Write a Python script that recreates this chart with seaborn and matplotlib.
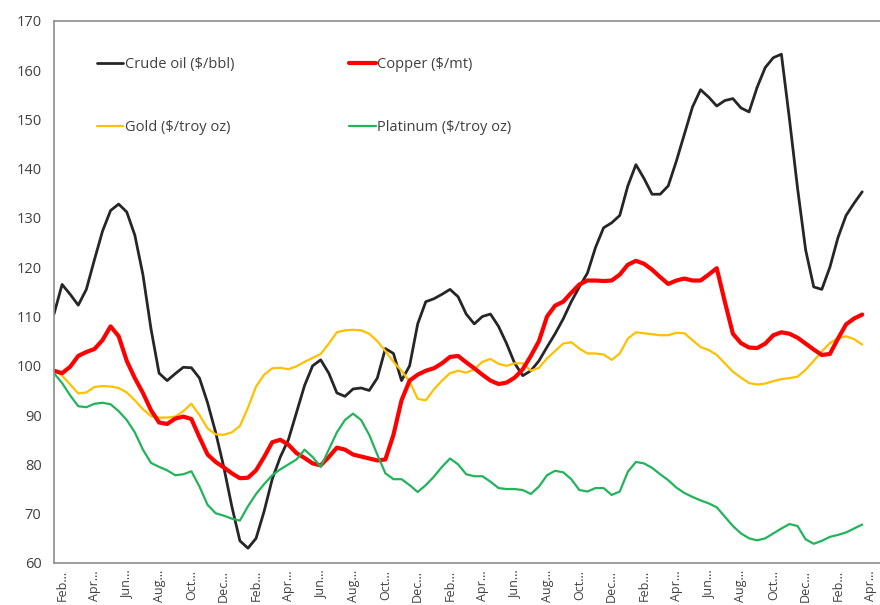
import numpy as np
import pandas as pd
import matplotlib
matplotlib.use("Agg")
import matplotlib.pyplot as plt
import seaborn as sns

# half-month steps, 0 .. 50 months
months = np.arange(0, 50.5, 0.5)

crude = [110.5, 116.5, 114.5, 112.3, 115.5, 121.5, 127.3, 131.5, 132.8, 131.2,
         126.5, 118.5, 107.5, 98.5, 97.0, 98.4, 99.7, 99.6, 97.5, 92.5,
         86.5, 79.5, 71.5, 64.5, 63.0, 65.0, 70.5, 77.0, 81.5, 85.0,
         90.5, 96.0, 100.0, 101.2, 98.5, 94.5, 93.8, 95.3, 95.5, 95.0,
         97.5, 103.5, 102.5, 97.0, 100.0, 108.5, 113.0, 113.6, 114.5, 115.5,
         114.0, 110.5, 108.5, 110.0, 110.5, 108.0, 104.5, 100.5, 98.0, 99.0,
         101.0, 103.8, 106.5, 109.5, 113.0, 116.0, 118.8, 124.0, 128.0, 129.0,
         130.5, 136.5, 140.8, 138.0, 134.8, 134.8, 136.5, 141.5, 147.0, 152.5,
         156.0, 154.5, 152.7, 153.8, 154.2, 152.3, 151.5, 156.5, 160.5, 162.5,
         163.2, 150.0, 136.0, 123.5, 116.0, 115.5, 120.0, 126.0, 130.5, 133.0,
         135.3]

copper = [99.0, 98.5, 99.8, 102.0, 102.8, 103.4, 105.2, 108.0, 106.0, 101.0,
          97.5, 94.5, 91.0, 88.5, 88.2, 89.3, 89.7, 89.2, 85.5, 82.0,
          80.5, 79.4, 78.2, 77.2, 77.3, 78.8, 81.5, 84.5, 85.0, 84.0,
          82.3, 81.3, 80.2, 79.8, 81.5, 83.4, 83.0, 82.0, 81.6, 81.2,
          80.8, 81.0, 86.0, 93.0, 97.0, 98.2, 99.0, 99.5, 100.5, 101.8,
          102.0, 100.7, 99.5, 98.2, 97.0, 96.3, 96.6, 97.6, 99.3, 102.0,
          105.0, 110.0, 112.2, 113.0, 114.8, 116.5, 117.3, 117.3, 117.2, 117.3,
          118.5, 120.5, 121.3, 120.7, 119.5, 118.0, 116.6, 117.3, 117.7, 117.3,
          117.3, 118.5, 119.8, 113.0, 106.5, 104.6, 103.7, 103.6, 104.5, 106.2,
          106.8, 106.5, 105.7, 104.5, 103.3, 102.2, 102.4, 105.5, 108.4, 109.6,
          110.4]

gold = [99.2, 98.0, 96.2, 94.4, 94.6, 95.7, 95.9, 95.8, 95.5, 94.6,
        93.0, 91.2, 89.8, 89.5, 89.5, 89.7, 90.8, 92.3, 90.0, 87.3,
        86.1, 86.0, 86.5, 87.8, 91.5, 95.8, 98.2, 99.5, 99.6, 99.3,
        99.9, 100.8, 101.6, 102.4, 104.5, 106.8, 107.2, 107.3, 107.2, 106.5,
        105.0, 103.0, 100.8, 99.0, 96.8, 93.3, 93.0, 95.2, 97.0, 98.5,
        99.0, 98.6, 99.3, 100.8, 101.4, 100.4, 100.0, 100.5, 100.5, 99.0,
        99.6, 101.5, 103.0, 104.5, 104.8, 103.5, 102.5, 102.5, 102.3, 101.2,
        102.5, 105.5, 106.8, 106.6, 106.4, 106.2, 106.2, 106.7, 106.6, 105.2,
        103.8, 103.2, 102.2, 100.5, 98.8, 97.6, 96.5, 96.2, 96.4, 96.9,
        97.3, 97.5, 97.8, 99.2, 101.0, 102.9, 104.6, 105.6, 106.0, 105.4,
        104.3]

platinum = [98.5, 96.5, 94.0, 91.8, 91.6, 92.3, 92.5, 92.2, 90.8, 89.0,
            86.5, 83.0, 80.3, 79.5, 78.8, 77.8, 78.0, 78.6, 75.5, 71.8,
            70.1, 69.6, 69.0, 68.6, 71.5, 74.0, 76.0, 77.8, 79.0, 80.0,
            81.0, 83.0, 81.5, 79.5, 83.0, 86.5, 89.0, 90.3, 89.0, 86.0,
            82.0, 78.2, 77.0, 77.0, 75.8, 74.4, 75.8, 77.5, 79.5, 81.2,
            80.0, 78.0, 77.6, 77.6, 76.5, 75.2, 75.0, 75.0, 74.8, 74.0,
            75.5, 77.8, 78.7, 78.4, 77.0, 74.8, 74.5, 75.2, 75.2, 73.8,
            74.5, 78.5, 80.5, 80.2, 79.3, 78.0, 76.8, 75.3, 74.2, 73.4,
            72.7, 72.1, 71.3, 69.4, 67.5, 66.0, 65.0, 64.6, 65.0, 66.0,
            67.0, 67.9, 67.5, 64.8, 63.9, 64.5, 65.3, 65.7, 66.2, 67.0,
            67.8]

tick_labels = ["Feb...", "Apr...", "Jun...", "Aug...", "Oct...", "Dec..."] * 4 + ["Feb...", "Apr..."]

series = [
    ("Crude oil ($/bbl)", crude, "#262626", 2.0),
    ("Gold ($/troy oz)", gold, "#ffc000", 1.6),
    ("Copper ($/mt)", copper, "#ff0000", 3.0),
    ("Platinum ($/troy oz)", platinum, "#22b45a", 1.6),
]

sns.set_style("white")
plt.rcParams["font.family"] = ["Open Sans", "DejaVu Sans"]

fig = plt.figure(figsize=(8.8, 6.05), dpi=100)
ax = fig.add_axes([54 / 880, 1 - 563 / 605, 1 - 54 / 880, (563 - 20.7) / 605])

for name, vals, color, lw in series:
    df = pd.DataFrame({"month": months, "value": vals})
    sns.lineplot(data=df, x="month", y="value", ax=ax, color=color,
                 linewidth=lw, label=name)

ax.set_xlim(0, 51.1)
ax.set_ylim(60, 170)
ax.set_yticks(range(60, 171, 10))
ax.set_xlabel("")
ax.set_ylabel("")

# month tick marks, labels every second month
ax.set_xticks(range(0, 51))
ax.set_xticklabels([])
ax.set_xticks([0.5 + 2 * j for j in range(len(tick_labels))], minor=True)
ax.set_xticklabels(tick_labels, minor=True, rotation=90)
ax.tick_params(axis="x", which="major", direction="out", length=4, width=1,
               color="#8c8c8c")
ax.tick_params(axis="x", which="minor", length=0, pad=5, labelsize=9,
               labelcolor="#404040")
ax.tick_params(axis="y", direction="out", length=5, width=1, color="#8c8c8c",
               labelsize=10.5, labelcolor="#404040", pad=4)

for side in ["left", "bottom", "top"]:
    ax.spines[side].set_color("#8c8c8c")
    ax.spines[side].set_linewidth(1.2)
ax.spines["right"].set_visible(False)

ax.legend(loc="upper left", bbox_to_anchor=(0.052, 0.933), ncol=2,
          frameon=False, fontsize=10.5, handlelength=1.8, handletextpad=0.1,
          labelspacing=3.3, columnspacing=7.9, borderaxespad=0, borderpad=0,
          labelcolor="#404040")

fig.savefig("out.png", dpi=100)
